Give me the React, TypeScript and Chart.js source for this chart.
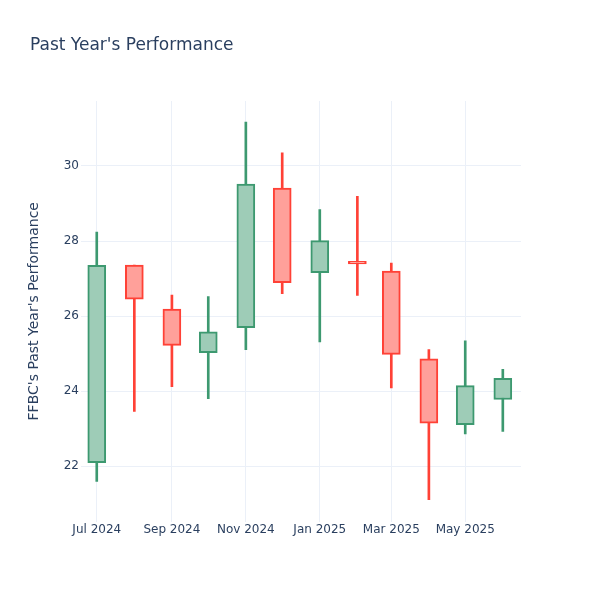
import React, { useEffect, useRef } from "react";
import { Chart, registerables } from "chart.js";

Chart.register(...registerables);

// ---- data ----
const candleDates = [
  "2024-07-01", "2024-08-01", "2024-09-01", "2024-10-01", "2024-11-01", "2024-12-01",
  "2025-01-01", "2025-02-01", "2025-03-01", "2025-04-01", "2025-05-01", "2025-06-01",
];
const opens = [22.1, 27.36, 26.19, 25.03, 25.69, 29.41, 27.16, 27.46, 27.2, 24.86, 23.11, 23.78];
const highs = [28.24, 27.36, 26.56, 26.52, 31.17, 30.35, 28.84, 29.19, 27.41, 25.11, 25.34, 24.58];
const lows = [21.6, 23.46, 24.12, 23.8, 25.11, 26.6, 25.31, 26.55, 24.09, 21.11, 22.86, 22.93];
const closes = [27.35, 26.45, 25.22, 25.58, 29.52, 26.89, 28.01, 27.39, 24.98, 23.15, 24.15, 24.34];

const xTickDates = ["2024-07-01", "2024-09-01", "2024-11-01", "2025-01-01", "2025-03-01", "2025-05-01"];
const xTickLabels = ["Jul 2024", "Sep 2024", "Nov 2024", "Jan 2025", "Mar 2025", "May 2025"];
const xRangeStart = "2024-06-18";
const xRangeEnd = "2025-06-16";
const yTicks = [22, 24, 26, 28, 30];
const yMin = 20.53;
const yMax = 31.73;

const titleText = "Past Year's Performance";
const yTitleText = "FFBC's Past Year's Performance";

const ORIGIN = Date.parse("2024-07-01");
const dayOf = (d: string) => (Date.parse(d) - ORIGIN) / 86400000;

const INC_LINE = "#3D9970";
const INC_FILL = "#9ECCB7";
const DEC_LINE = "#FF4136";
const DEC_FILL = "#FFA09A";
const TEXT = "#2a3f5f";
const GRID = "#EBF0F8";
const FONT = "'DejaVu Sans', sans-serif";

export default function App() {
  const ref = useRef<HTMLCanvasElement | null>(null);

  useEffect(() => {
    if (!ref.current) return;
    const up = opens.map((o, i) => closes[i] >= o);
    const xs = candleDates.map(dayOf);

    const chart = new Chart(ref.current, {
      type: "bar",
      data: {
        datasets: [
          {
            label: "body",
            data: xs.map((x, i) => ({ x, y: [opens[i], closes[i]] })) as any,
            backgroundColor: up.map((u) => (u ? INC_FILL : DEC_FILL)),
            borderColor: up.map((u) => (u ? INC_LINE : DEC_LINE)),
            borderWidth: 2,
            borderSkipped: false,
            barThickness: 18,
            grouped: false,
            order: 0,
          } as any,
          {
            label: "wick",
            data: xs.map((x, i) => ({ x, y: [lows[i], highs[i]] })) as any,
            backgroundColor: up.map((u) => (u ? INC_LINE : DEC_LINE)),
            borderWidth: 0,
            borderSkipped: false,
            barThickness: 2,
            grouped: false,
            order: 1,
          } as any,
        ],
      },
      options: {
        animation: false,
        responsive: false,
        layout: { padding: { left: 30, right: 79, top: 0, bottom: 0 } },
        plugins: {
          legend: { display: false },
          tooltip: { enabled: false },
          title: {
            display: true,
            text: titleText,
            align: "start",
            color: TEXT,
            font: { family: FONT, size: 17, weight: "normal" },
            padding: { top: 35, bottom: 45.6 },
          },
        },
        scales: {
          x: {
            type: "linear",
            min: dayOf(xRangeStart),
            max: dayOf(xRangeEnd),
            offset: false,
            border: { display: false },
            grid: { color: GRID, lineWidth: 1, drawTicks: false, offset: false },
            ticks: {
              color: TEXT,
              font: { family: FONT, size: 12 },
              padding: 1,
              maxRotation: 0,
              autoSkip: false,
              callback: (_v: any, i: number) => xTickLabels[i],
            },
            afterBuildTicks: (scale: any) => {
              scale.ticks = xTickDates.map((d) => ({ value: dayOf(d) }));
            },
            afterFit: (scale: any) => {
              scale.height = 78.5;
            },
          },
          y: {
            type: "linear",
            min: yMin,
            max: yMax,
            beginAtZero: false,
            border: { display: false },
            grid: { color: GRID, lineWidth: 1, drawTicks: false },
            ticks: {
              color: TEXT,
              font: { family: FONT, size: 12 },
              padding: 2,
              callback: (v: any) => String(v),
            },
            afterBuildTicks: (scale: any) => {
              scale.ticks = yTicks.map((v) => ({ value: v }));
            },
            afterFit: (scale: any) => {
              scale.width = 51;
            },
            title: {
              display: true,
              text: yTitleText,
              color: TEXT,
              font: { family: FONT, size: 14 },
              padding: { top: -4, bottom: 0 },
            },
          },
        },
      } as any,
    });
    return () => chart.destroy();
  }, []);

  return (
    <div style={{ position: "absolute", left: 0, top: 0, width: 600, height: 600, background: "#fff" }}>
      <canvas ref={ref} width={600} height={600} style={{ display: "block", width: 600, height: 600 }} />
    </div>
  );
}
